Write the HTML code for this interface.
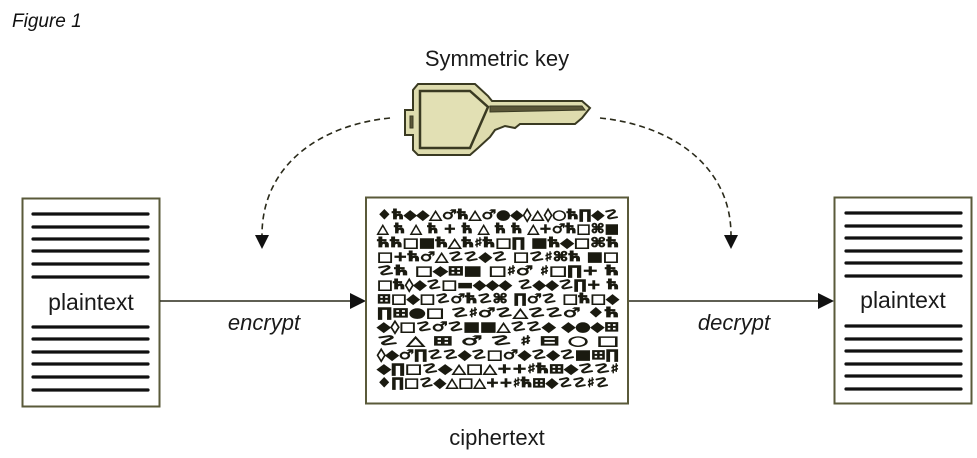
<!DOCTYPE html>
<html><head><meta charset="utf-8"><style>
html,body{margin:0;padding:0;background:#fff;width:977px;height:458px;overflow:hidden}
svg{display:block}
</style></head><body>
<svg width="977" height="458" viewBox="0 0 977 458" xmlns="http://www.w3.org/2000/svg" font-family="Liberation Sans, sans-serif">
<text x="12" y="27" font-family="Liberation Sans, sans-serif" font-style="italic" font-size="19" fill="#111">Figure 1</text>
<text x="497" y="66" text-anchor="middle" font-size="22" fill="#1a1a1a">Symmetric key</text>
<!-- key -->
<g stroke="#3a3a22" stroke-width="2" fill="#dedcae">
<path d="M405,110 L413,110 L413,90 L418,84 L475,84 L488,96 L492,101 L582,101 L590,108 L582,118 L575,124 L520,124 L515,128 L505,126 L495,130 L490,137 L478,148 L470,155 L418,155 L413,150 L413,135 L405,135 Z"/>
<path d="M420,91 L470,91 L488,107 L470,148 L420,148 Z" fill="#e2e0b4" stroke-width="2.5"/>
<path d="M490,106 L582,106 L585,110 L490,112 Z" fill="#5a5638" stroke-width="1"/>
<path d="M410,116 L413,116 L413,128 L410,128Z" fill="#5a5638" stroke-width="1"/>
</g>
<!-- dashed arcs -->
<g fill="none" stroke="#2a2a1a" stroke-width="1.6" stroke-dasharray="6,4">
<path d="M390,118 C320,125 262,165 262,235"/>
<path d="M600,118 C670,125 731,165 731,235"/>
</g>
<polygon points="255,235 269,235 262,249" fill="#111"/>
<polygon points="724,235 738,235 731,249" fill="#111"/>
<!-- left doc -->
<rect x="22.5" y="198.5" width="137" height="208" fill="#fff" stroke="#5a5a3a" stroke-width="2"/>
<g stroke="#111" stroke-width="3.2" stroke-linecap="round">
<line x1="33" y1="214" x2="148" y2="214"/><line x1="33" y1="227" x2="148" y2="227"/><line x1="33" y1="239" x2="148" y2="239"/><line x1="33" y1="251" x2="148" y2="251"/><line x1="33" y1="264" x2="148" y2="264"/><line x1="33" y1="277" x2="148" y2="277"/>
<line x1="33" y1="327" x2="148" y2="327"/><line x1="33" y1="339" x2="148" y2="339"/><line x1="33" y1="352" x2="148" y2="352"/><line x1="33" y1="364" x2="148" y2="364"/><line x1="33" y1="377" x2="148" y2="377"/><line x1="33" y1="390" x2="148" y2="390"/>
</g>
<text x="91" y="310" text-anchor="middle" font-size="23" fill="#1a1a1a">plaintext</text>
<!-- right doc -->
<rect x="834.5" y="197.5" width="137" height="206" fill="#fff" stroke="#5a5a3a" stroke-width="2"/>
<g stroke="#111" stroke-width="3.2" stroke-linecap="round">
<line x1="846" y1="213" x2="961" y2="213"/><line x1="846" y1="226" x2="961" y2="226"/><line x1="846" y1="238" x2="961" y2="238"/><line x1="846" y1="251" x2="961" y2="251"/><line x1="846" y1="263" x2="961" y2="263"/><line x1="846" y1="276" x2="961" y2="276"/>
<line x1="846" y1="326" x2="961" y2="326"/><line x1="846" y1="339" x2="961" y2="339"/><line x1="846" y1="351" x2="961" y2="351"/><line x1="846" y1="364" x2="961" y2="364"/><line x1="846" y1="376" x2="961" y2="376"/><line x1="846" y1="389" x2="961" y2="389"/>
</g>
<text x="903" y="308" text-anchor="middle" font-size="23" fill="#1a1a1a">plaintext</text>
<!-- arrows -->
<line x1="160" y1="301" x2="352" y2="301" stroke="#2a2a1a" stroke-width="1.6"/>
<polygon points="350,293 366,301 350,309" fill="#111"/>
<line x1="628" y1="301" x2="820" y2="301" stroke="#2a2a1a" stroke-width="1.6"/>
<polygon points="818,293 834,301 818,309" fill="#111"/>
<text x="264" y="330" text-anchor="middle" font-size="22" font-style="italic" fill="#1a1a1a">encrypt</text>
<text x="734" y="330" text-anchor="middle" font-size="22" font-style="italic" fill="#1a1a1a">decrypt</text>
<!-- cipher box -->
<rect x="366" y="197.5" width="262" height="206" fill="#fff" stroke="#5a5a3a" stroke-width="2"/>
<g font-family="DejaVu Sans, sans-serif" font-size="13" font-weight="bold" fill="#1a1a10" stroke="#1a1a10" stroke-width="0.7">
<text x="377" y="219" textLength="242" lengthAdjust="spacingAndGlyphs">♦ћ◆◆△♂ћ△♂●◆◊△◊○ћ∏◆☡</text>
<text x="377" y="233" textLength="242" lengthAdjust="spacingAndGlyphs">△ ћ △ ћ + ћ △ ћ ћ △+♂ћ□⌘■</text>
<text x="377" y="247" textLength="242" lengthAdjust="spacingAndGlyphs">ћћ□■ћ△ћ♯ћ□∏   ■ћ◆□⌘ћ</text>
<text x="377" y="261" textLength="242" lengthAdjust="spacingAndGlyphs">□+ћ♂△☡☡◆☡  □☡♯⌘ћ   ■□</text>
<text x="377" y="275" textLength="242" lengthAdjust="spacingAndGlyphs">☡ћ  □◆⊞■  □♯♂  ♯□∏+  ћ</text>
<text x="377" y="289" textLength="242" lengthAdjust="spacingAndGlyphs">□ћ◊◆☡□▬◆◆◆  ☡◆◆☡∏+  ћ</text>
<text x="377" y="303" textLength="242" lengthAdjust="spacingAndGlyphs">⊞□◆□☡♂ћ☡⌘  ∏♂☡  □ћ□◆</text>
<text x="377" y="317" textLength="242" lengthAdjust="spacingAndGlyphs">∏⊞●□   ☡♯♂☡△☡☡♂   ♦ћ</text>
<text x="377" y="331" textLength="242" lengthAdjust="spacingAndGlyphs">◆◊□☡♂☡■■△☡☡◆   ◆●◆⊞</text>
<text x="377" y="345" textLength="242" lengthAdjust="spacingAndGlyphs">☡  △  ⊞  ♂  ☡  ♯  ⊟  ○  □</text>
<text x="377" y="359" textLength="242" lengthAdjust="spacingAndGlyphs">◊◆♂∏☡☡◆☡□♂◆☡◆☡■⊞∏</text>
<text x="377" y="373" textLength="242" lengthAdjust="spacingAndGlyphs">◆∏□☡◆△□△++♯ћ⊞◆☡☡♯</text>
<text x="377" y="387" textLength="232" lengthAdjust="spacingAndGlyphs">♦∏□☡◆△□△++♯ћ⊞◆☡☡♯☡</text>
</g>
<text x="497" y="445" text-anchor="middle" font-size="22" fill="#1a1a1a">ciphertext</text>
</svg>
</body></html>
